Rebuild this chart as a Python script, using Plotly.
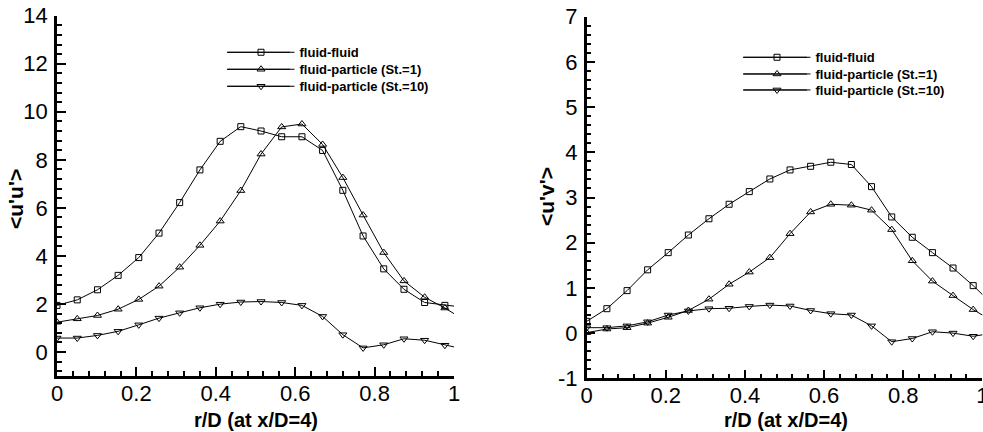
import plotly.graph_objects as go

# ---------------- data ----------------
r_D = [0.000, 0.051, 0.102, 0.154, 0.206, 0.257, 0.309, 0.360, 0.411, 0.463,
       0.514, 0.566, 0.617, 0.669, 0.720, 0.771, 0.823, 0.874, 0.926, 0.977, 1.029]

uu_fluid = [1.94, 2.17, 2.59, 3.19, 3.93, 4.95, 6.22, 7.58, 8.77, 9.38,
            9.20, 8.96, 8.96, 8.39, 6.73, 4.83, 3.46, 2.61, 2.06, 1.94, 1.85]
uu_st1 = [1.24, 1.38, 1.52, 1.78, 2.19, 2.74, 3.53, 4.44, 5.45, 6.72,
          8.24, 9.37, 9.49, 8.64, 7.26, 5.70, 4.14, 2.96, 2.28, 1.83, 1.30]
uu_st10 = [0.58, 0.58, 0.69, 0.86, 1.13, 1.41, 1.63, 1.84, 1.99, 2.08,
           2.10, 2.06, 1.94, 1.48, 0.72, 0.17, 0.30, 0.55, 0.49, 0.28, 0.10]

uv_fluid = [0.26, 0.54, 0.94, 1.40, 1.78, 2.17, 2.53, 2.85, 3.13, 3.41,
            3.61, 3.69, 3.78, 3.73, 3.24, 2.57, 2.12, 1.78, 1.44, 1.05, 0.61]
uv_st1 = [0.01, 0.09, 0.12, 0.22, 0.35, 0.50, 0.75, 1.08, 1.35, 1.67,
          2.20, 2.68, 2.85, 2.83, 2.72, 2.29, 1.60, 1.15, 0.83, 0.52, 0.25]
uv_st10 = [0.12, 0.12, 0.16, 0.25, 0.40, 0.49, 0.54, 0.55, 0.59, 0.62,
           0.60, 0.50, 0.43, 0.40, 0.16, -0.19, -0.12, 0.03, 0.00, -0.07, 0.00]

series_names = ["fluid-fluid", "fluid-particle (St.=1)", "fluid-particle (St.=10)"]
series_symbols = ["square-open", "triangle-up-open", "triangle-down-open"]
series_sizes = [6, 7, 7]

x_tickvals = [0, 0.2, 0.4, 0.6, 0.8, 1]
x_ticktext = ["0", "0.2", "0.4", "0.6", "0.8", "1"]
uu_tickvals = [0, 2, 4, 6, 8, 10, 12, 14]
uu_ticktext = ["0", "2", "4", "6", "8", "10", "12", "14"]
uv_tickvals = [-1, 0, 1, 2, 3, 4, 5, 6, 7]
uv_ticktext = ["-1", "0", "1", "2", "3", "4", "5", "6", "7"]

x_title = "r/D (at x/D=4)"
uu_title = "<u'u'>"
uv_title = "<u'v'>"

# ---------------- figure ----------------
W, H = 983, 432
FONT = "Liberation Sans, Arial, Helvetica, sans-serif"


def px(x):
    return x / W


def py(y):
    return 1 - y / H


fig = go.Figure()

legend_ids = ["legend", "legend2", "legend3", "legend4", "legend5", "legend6"]
panels = [
    (("x", "y"), [uu_fluid, uu_st1, uu_st10]),
    (("x2", "y2"), [uv_fluid, uv_st1, uv_st10]),
]
k = 0
for (xa, ya), ys in panels:
    for y, name, sym, sz in zip(ys, series_names, series_symbols, series_sizes):
        fig.add_trace(go.Scatter(
            x=r_D, y=y, mode="lines+markers", name=name,
            xaxis=xa, yaxis=ya, legend=legend_ids[k],
            line=dict(color="black", width=1),
            marker=dict(symbol=sym, size=sz, color="black",
                        line=dict(color="black", width=1)),
            cliponaxis=True,
        ))
        k += 1

axis_common = dict(
    showline=True, linecolor="black", linewidth=2.5, mirror=False,
    ticks="inside", ticklen=9, tickwidth=2, tickcolor="black",
    showgrid=False, zeroline=False, automargin=False,
    tickfont=dict(family=FONT, size=22, color="black"),
    tickmode="array", ticklabeloverflow="allow",
)

fig.update_layout(
    width=W, height=H, template="none",
    paper_bgcolor="white", plot_bgcolor="white",
    margin=dict(l=0, r=0, t=0, b=0),
    showlegend=True,
    xaxis=dict(axis_common, domain=[px(57), px(454)], range=[0, 1],
               tickvals=x_tickvals, ticktext=x_ticktext, anchor="y",
               ticklabelstandoff=-4,
               minor=dict(ticks="inside", ticklen=5, tickwidth=1.5,
                          tickcolor="black", dtick=0.04, tick0=0)),
    yaxis=dict(axis_common, domain=[py(376), py(15.7)], range=[-1, 14],
               tickvals=uu_tickvals, ticktext=uu_ticktext, anchor="x",
               ticklabelstandoff=2,
               minor=dict(ticks="inside", ticklen=5, tickwidth=1.5,
                          tickcolor="black", dtick=0.4, tick0=0)),
    xaxis2=dict(axis_common, domain=[px(586.7), px(982.3)], range=[0, 1],
                tickvals=x_tickvals, ticktext=x_ticktext, anchor="y2",
                ticklabelstandoff=-4,
                minor=dict(ticks="inside", ticklen=5, tickwidth=1.5,
                           tickcolor="black", dtick=0.04, tick0=0)),
    yaxis2=dict(axis_common, domain=[py(378.3), py(16.7)], range=[-1, 7],
                tickvals=uv_tickvals, ticktext=uv_ticktext, anchor="x2",
                ticklabelstandoff=2,
                minor=dict(ticks="inside", ticklen=5, tickwidth=1.5,
                           tickcolor="black", dtick=0.2, tick0=0)),
)

# legends: one per entry so that rows sit exactly like the reference
leg_font = dict(family=FONT, size=13, color="black", weight="bold")
ITEM_W = 67
left_rows = [52.3, 69.3, 86.3]
right_rows = [57.3, 74.0, 90.0]
legend_layout = {}
shapes = []
for rows, marker_x, line_x0, line_x1, ids in [
        (left_rows, 259, 227, 290, legend_ids[:3]),
        (right_rows, 775, 743, 807, legend_ids[3:])]:
    for yrow, lid in zip(rows, ids):
        legend_layout[lid] = dict(
            x=px(marker_x - ITEM_W / 2 - 3), y=py(yrow),
            xanchor="left", yanchor="middle",
            bgcolor="rgba(0,0,0,0)", borderwidth=0, font=leg_font,
            itemwidth=ITEM_W, tracegroupgap=0)
        shapes.append(dict(type="line", xref="paper", yref="paper",
                           x0=px(line_x0), x1=px(line_x1),
                           y0=py(yrow), y1=py(yrow),
                           line=dict(color="black", width=1)))
fig.update_layout(**legend_layout)
fig.update_layout(shapes=shapes)

# axis titles
title_font_x = dict(family=FONT, size=20, color="black", weight="bold")
title_font_y = dict(family=FONT, size=21, color="black", weight="bold")
fig.add_annotation(text=x_title, xref="paper", yref="paper",
                   x=px(256), y=py(420), showarrow=False,
                   xanchor="center", yanchor="middle", font=title_font_x)
fig.add_annotation(text=x_title, xref="paper", yref="paper",
                   x=px(786), y=py(420), showarrow=False,
                   xanchor="center", yanchor="middle", font=title_font_x)
fig.add_annotation(text=uu_title, xref="paper", yref="paper",
                   x=px(15), y=py(199), showarrow=False, textangle=-90,
                   xanchor="center", yanchor="middle", font=title_font_y)
fig.add_annotation(text=uv_title, xref="paper", yref="paper",
                   x=px(546), y=py(197), showarrow=False, textangle=-90,
                   xanchor="center", yanchor="middle", font=title_font_y)

fig.write_html("out.html",
               config={"displayModeBar": False},
               post_script="document.body.style.margin='0px';"
                           "document.body.style.padding='0px';")
